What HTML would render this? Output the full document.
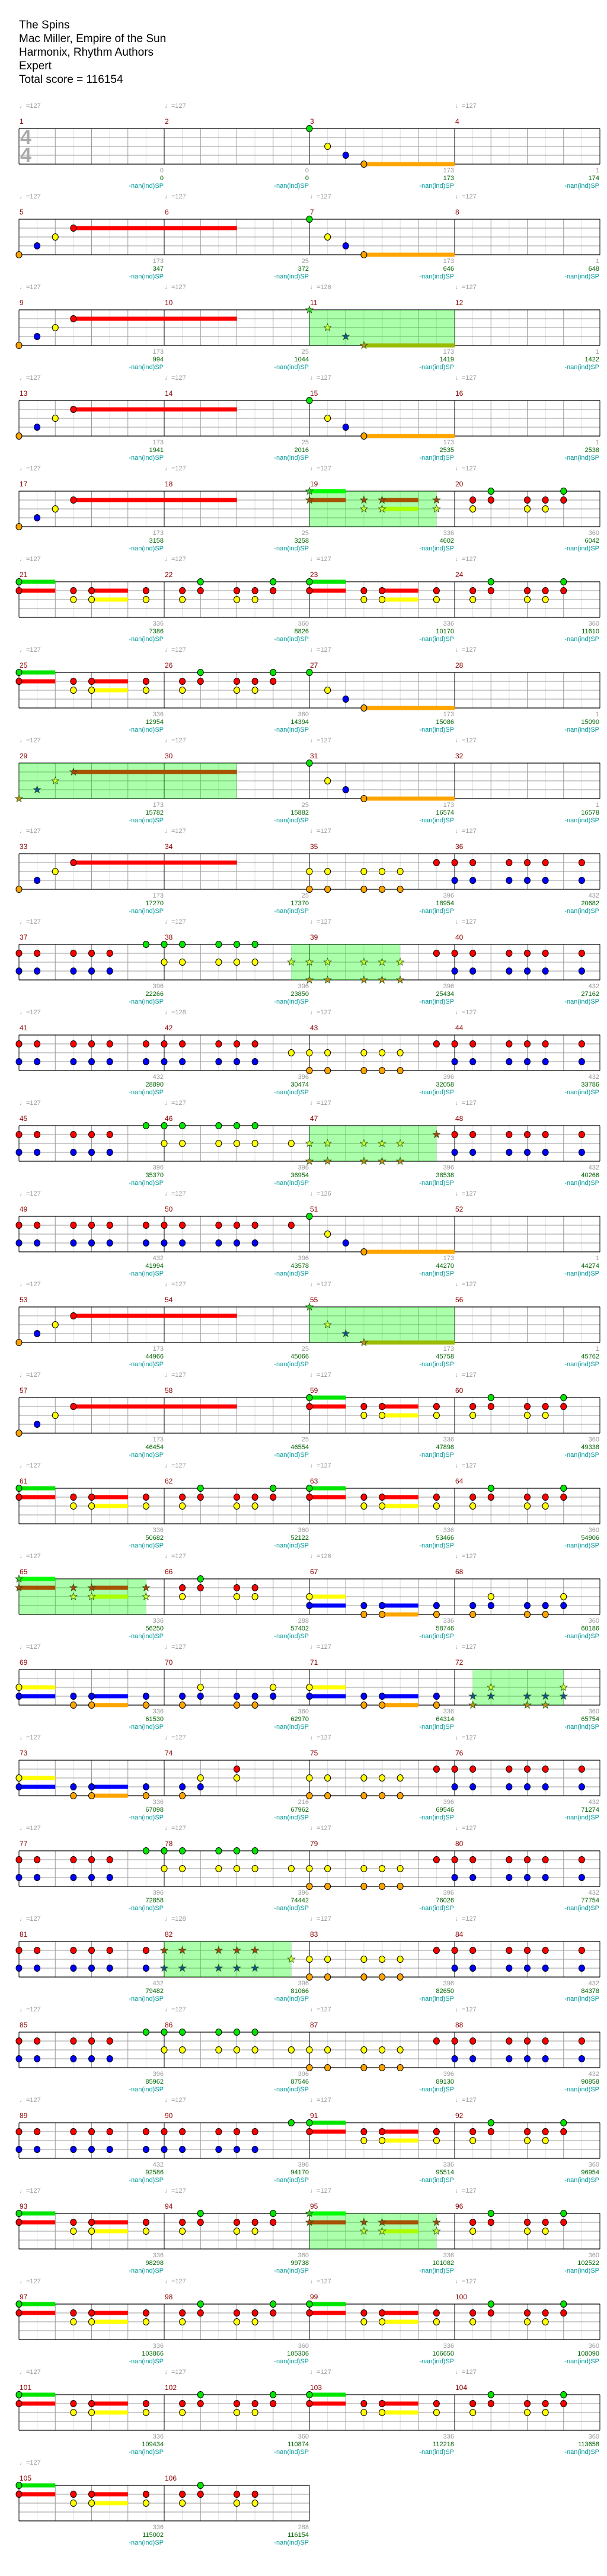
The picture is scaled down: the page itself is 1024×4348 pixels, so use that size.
<!DOCTYPE html>
<html><head><meta charset="utf-8">
<style>
html,body{margin:0;padding:0;background:#fff;}
body{width:1024px;height:4348px;position:relative;overflow:hidden;font-family:"Liberation Sans",sans-serif;}
#hd{position:absolute;left:32px;top:31px;font-size:19px;line-height:23px;color:#000;}
.r{position:absolute;left:32px;width:980px;height:0;}
.tp,.mn,.bt{position:absolute;left:0;display:flex;white-space:nowrap;}
.tp{top:-44px;font-size:11px;line-height:13px;color:#999;}
.mn{top:-18px;font-size:12px;line-height:13px;color:#8b0000;}
.bt{top:65px;font-size:11px;line-height:13px;color:#999;}
.tp span,.mn span{display:block;width:245px;padding-left:1px;box-sizing:border-box;}
.bt span{display:block;width:245px;text-align:right;padding-right:1px;box-sizing:border-box;}
.bt b{font-weight:normal;color:#006400;}
.bt i{font-style:normal;color:#009999;}
#ts{position:absolute;left:34px;top:217px;font-size:34px;line-height:30px;color:#aaa;font-weight:bold;}
svg{position:absolute;left:0;top:0;}
</style></head><body>
<svg id="s" width="1024" height="4348" xmlns="http://www.w3.org/2000/svg"></svg>
<div id="hd">The Spins<br>Mac Miller, Empire of the Sun<br>Harmonix, Rhythm Authors<br>Expert<br>Total score = 116154</div>
<div id="ts">4<br>4</div>

<div class=r style="top:217px"><div class=tp><span>♩=127</span><span>♩=127</span><span></span><span>♩=127</span></div><div class=mn><span>1</span><span>2</span><span>3</span><span>4</span></div><div class=bt><span>0<br><b>0</b><br><i>-nan(ind)SP</i></span><span>0<br><b>0</b><br><i>-nan(ind)SP</i></span><span>173<br><b>173</b><br><i>-nan(ind)SP</i></span><span>1<br><b>174</b><br><i>-nan(ind)SP</i></span></div></div>
<div class=r style="top:370px"><div class=tp><span>♩=127</span><span>♩=127</span><span>♩=127</span><span>♩=127</span></div><div class=mn><span>5</span><span>6</span><span>7</span><span>8</span></div><div class=bt><span>173<br><b>347</b><br><i>-nan(ind)SP</i></span><span>25<br><b>372</b><br><i>-nan(ind)SP</i></span><span>173<br><b>646</b><br><i>-nan(ind)SP</i></span><span>1<br><b>648</b><br><i>-nan(ind)SP</i></span></div></div>
<div class=r style="top:523px"><div class=tp><span>♩=127</span><span>♩=127</span><span>♩=126</span><span>♩=127</span></div><div class=mn><span>9</span><span>10</span><span>11</span><span>12</span></div><div class=bt><span>173<br><b>994</b><br><i>-nan(ind)SP</i></span><span>25<br><b>1044</b><br><i>-nan(ind)SP</i></span><span>173<br><b>1419</b><br><i>-nan(ind)SP</i></span><span>1<br><b>1422</b><br><i>-nan(ind)SP</i></span></div></div>
<div class=r style="top:676px"><div class=tp><span>♩=127</span><span>♩=127</span><span>♩=127</span><span>♩=127</span></div><div class=mn><span>13</span><span>14</span><span>15</span><span>16</span></div><div class=bt><span>173<br><b>1941</b><br><i>-nan(ind)SP</i></span><span>25<br><b>2016</b><br><i>-nan(ind)SP</i></span><span>173<br><b>2535</b><br><i>-nan(ind)SP</i></span><span>1<br><b>2538</b><br><i>-nan(ind)SP</i></span></div></div>
<div class=r style="top:829px"><div class=tp><span>♩=127</span><span>♩=127</span><span>♩=127</span><span>♩=127</span></div><div class=mn><span>17</span><span>18</span><span>19</span><span>20</span></div><div class=bt><span>173<br><b>3158</b><br><i>-nan(ind)SP</i></span><span>25<br><b>3258</b><br><i>-nan(ind)SP</i></span><span>336<br><b>4602</b><br><i>-nan(ind)SP</i></span><span>360<br><b>6042</b><br><i>-nan(ind)SP</i></span></div></div>
<div class=r style="top:982px"><div class=tp><span>♩=127</span><span>♩=127</span><span>♩=127</span><span>♩=127</span></div><div class=mn><span>21</span><span>22</span><span>23</span><span>24</span></div><div class=bt><span>336<br><b>7386</b><br><i>-nan(ind)SP</i></span><span>360<br><b>8826</b><br><i>-nan(ind)SP</i></span><span>336<br><b>10170</b><br><i>-nan(ind)SP</i></span><span>360<br><b>11610</b><br><i>-nan(ind)SP</i></span></div></div>
<div class=r style="top:1135px"><div class=tp><span>♩=127</span><span>♩=127</span><span>♩=127</span><span>♩=127</span></div><div class=mn><span>25</span><span>26</span><span>27</span><span>28</span></div><div class=bt><span>336<br><b>12954</b><br><i>-nan(ind)SP</i></span><span>360<br><b>14394</b><br><i>-nan(ind)SP</i></span><span>173<br><b>15086</b><br><i>-nan(ind)SP</i></span><span>1<br><b>15090</b><br><i>-nan(ind)SP</i></span></div></div>
<div class=r style="top:1288px"><div class=tp><span>♩=127</span><span>♩=127</span><span>♩=127</span><span>♩=127</span></div><div class=mn><span>29</span><span>30</span><span>31</span><span>32</span></div><div class=bt><span>173<br><b>15782</b><br><i>-nan(ind)SP</i></span><span>25<br><b>15882</b><br><i>-nan(ind)SP</i></span><span>173<br><b>16574</b><br><i>-nan(ind)SP</i></span><span>1<br><b>16578</b><br><i>-nan(ind)SP</i></span></div></div>
<div class=r style="top:1441px"><div class=tp><span>♩=127</span><span>♩=127</span><span>♩=127</span><span>♩=127</span></div><div class=mn><span>33</span><span>34</span><span>35</span><span>36</span></div><div class=bt><span>173<br><b>17270</b><br><i>-nan(ind)SP</i></span><span>25<br><b>17370</b><br><i>-nan(ind)SP</i></span><span>396<br><b>18954</b><br><i>-nan(ind)SP</i></span><span>432<br><b>20682</b><br><i>-nan(ind)SP</i></span></div></div>
<div class=r style="top:1594px"><div class=tp><span>♩=127</span><span>♩=127</span><span>♩=127</span><span>♩=127</span></div><div class=mn><span>37</span><span>38</span><span>39</span><span>40</span></div><div class=bt><span>396<br><b>22266</b><br><i>-nan(ind)SP</i></span><span>396<br><b>23850</b><br><i>-nan(ind)SP</i></span><span>396<br><b>25434</b><br><i>-nan(ind)SP</i></span><span>432<br><b>27162</b><br><i>-nan(ind)SP</i></span></div></div>
<div class=r style="top:1747px"><div class=tp><span>♩=127</span><span>♩=128</span><span>♩=127</span><span>♩=127</span></div><div class=mn><span>41</span><span>42</span><span>43</span><span>44</span></div><div class=bt><span>432<br><b>28890</b><br><i>-nan(ind)SP</i></span><span>396<br><b>30474</b><br><i>-nan(ind)SP</i></span><span>396<br><b>32058</b><br><i>-nan(ind)SP</i></span><span>432<br><b>33786</b><br><i>-nan(ind)SP</i></span></div></div>
<div class=r style="top:1900px"><div class=tp><span>♩=127</span><span>♩=127</span><span>♩=127</span><span>♩=127</span></div><div class=mn><span>45</span><span>46</span><span>47</span><span>48</span></div><div class=bt><span>396<br><b>35370</b><br><i>-nan(ind)SP</i></span><span>396<br><b>36954</b><br><i>-nan(ind)SP</i></span><span>396<br><b>38538</b><br><i>-nan(ind)SP</i></span><span>432<br><b>40266</b><br><i>-nan(ind)SP</i></span></div></div>
<div class=r style="top:2053px"><div class=tp><span>♩=127</span><span>♩=127</span><span>♩=126</span><span>♩=127</span></div><div class=mn><span>49</span><span>50</span><span>51</span><span>52</span></div><div class=bt><span>432<br><b>41994</b><br><i>-nan(ind)SP</i></span><span>396<br><b>43578</b><br><i>-nan(ind)SP</i></span><span>173<br><b>44270</b><br><i>-nan(ind)SP</i></span><span>1<br><b>44274</b><br><i>-nan(ind)SP</i></span></div></div>
<div class=r style="top:2206px"><div class=tp><span>♩=127</span><span>♩=127</span><span>♩=127</span><span>♩=127</span></div><div class=mn><span>53</span><span>54</span><span>55</span><span>56</span></div><div class=bt><span>173<br><b>44966</b><br><i>-nan(ind)SP</i></span><span>25<br><b>45066</b><br><i>-nan(ind)SP</i></span><span>173<br><b>45758</b><br><i>-nan(ind)SP</i></span><span>1<br><b>45762</b><br><i>-nan(ind)SP</i></span></div></div>
<div class=r style="top:2359px"><div class=tp><span>♩=127</span><span>♩=127</span><span>♩=127</span><span>♩=127</span></div><div class=mn><span>57</span><span>58</span><span>59</span><span>60</span></div><div class=bt><span>173<br><b>46454</b><br><i>-nan(ind)SP</i></span><span>25<br><b>46554</b><br><i>-nan(ind)SP</i></span><span>336<br><b>47898</b><br><i>-nan(ind)SP</i></span><span>360<br><b>49338</b><br><i>-nan(ind)SP</i></span></div></div>
<div class=r style="top:2512px"><div class=tp><span>♩=127</span><span>♩=127</span><span>♩=127</span><span>♩=127</span></div><div class=mn><span>61</span><span>62</span><span>63</span><span>64</span></div><div class=bt><span>336<br><b>50682</b><br><i>-nan(ind)SP</i></span><span>360<br><b>52122</b><br><i>-nan(ind)SP</i></span><span>336<br><b>53466</b><br><i>-nan(ind)SP</i></span><span>360<br><b>54906</b><br><i>-nan(ind)SP</i></span></div></div>
<div class=r style="top:2665px"><div class=tp><span>♩=127</span><span>♩=127</span><span>♩=126</span><span>♩=127</span></div><div class=mn><span>65</span><span>66</span><span>67</span><span>68</span></div><div class=bt><span>336<br><b>56250</b><br><i>-nan(ind)SP</i></span><span>288<br><b>57402</b><br><i>-nan(ind)SP</i></span><span>336<br><b>58746</b><br><i>-nan(ind)SP</i></span><span>360<br><b>60186</b><br><i>-nan(ind)SP</i></span></div></div>
<div class=r style="top:2818px"><div class=tp><span>♩=127</span><span>♩=127</span><span>♩=127</span><span>♩=127</span></div><div class=mn><span>69</span><span>70</span><span>71</span><span>72</span></div><div class=bt><span>336<br><b>61530</b><br><i>-nan(ind)SP</i></span><span>360<br><b>62970</b><br><i>-nan(ind)SP</i></span><span>336<br><b>64314</b><br><i>-nan(ind)SP</i></span><span>360<br><b>65754</b><br><i>-nan(ind)SP</i></span></div></div>
<div class=r style="top:2971px"><div class=tp><span>♩=127</span><span>♩=127</span><span>♩=127</span><span>♩=127</span></div><div class=mn><span>73</span><span>74</span><span>75</span><span>76</span></div><div class=bt><span>336<br><b>67098</b><br><i>-nan(ind)SP</i></span><span>216<br><b>67962</b><br><i>-nan(ind)SP</i></span><span>396<br><b>69546</b><br><i>-nan(ind)SP</i></span><span>432<br><b>71274</b><br><i>-nan(ind)SP</i></span></div></div>
<div class=r style="top:3124px"><div class=tp><span>♩=127</span><span>♩=127</span><span>♩=127</span><span>♩=127</span></div><div class=mn><span>77</span><span>78</span><span>79</span><span>80</span></div><div class=bt><span>396<br><b>72858</b><br><i>-nan(ind)SP</i></span><span>396<br><b>74442</b><br><i>-nan(ind)SP</i></span><span>396<br><b>76026</b><br><i>-nan(ind)SP</i></span><span>432<br><b>77754</b><br><i>-nan(ind)SP</i></span></div></div>
<div class=r style="top:3277px"><div class=tp><span>♩=127</span><span>♩=128</span><span>♩=127</span><span>♩=127</span></div><div class=mn><span>81</span><span>82</span><span>83</span><span>84</span></div><div class=bt><span>432<br><b>79482</b><br><i>-nan(ind)SP</i></span><span>396<br><b>81066</b><br><i>-nan(ind)SP</i></span><span>396<br><b>82650</b><br><i>-nan(ind)SP</i></span><span>432<br><b>84378</b><br><i>-nan(ind)SP</i></span></div></div>
<div class=r style="top:3430px"><div class=tp><span>♩=127</span><span>♩=127</span><span>♩=127</span><span>♩=127</span></div><div class=mn><span>85</span><span>86</span><span>87</span><span>88</span></div><div class=bt><span>396<br><b>85962</b><br><i>-nan(ind)SP</i></span><span>396<br><b>87546</b><br><i>-nan(ind)SP</i></span><span>396<br><b>89130</b><br><i>-nan(ind)SP</i></span><span>432<br><b>90858</b><br><i>-nan(ind)SP</i></span></div></div>
<div class=r style="top:3583px"><div class=tp><span>♩=127</span><span>♩=127</span><span>♩=127</span><span>♩=127</span></div><div class=mn><span>89</span><span>90</span><span>91</span><span>92</span></div><div class=bt><span>432<br><b>92586</b><br><i>-nan(ind)SP</i></span><span>396<br><b>94170</b><br><i>-nan(ind)SP</i></span><span>336<br><b>95514</b><br><i>-nan(ind)SP</i></span><span>360<br><b>96954</b><br><i>-nan(ind)SP</i></span></div></div>
<div class=r style="top:3736px"><div class=tp><span>♩=127</span><span>♩=127</span><span>♩=127</span><span>♩=127</span></div><div class=mn><span>93</span><span>94</span><span>95</span><span>96</span></div><div class=bt><span>336<br><b>98298</b><br><i>-nan(ind)SP</i></span><span>360<br><b>99738</b><br><i>-nan(ind)SP</i></span><span>336<br><b>101082</b><br><i>-nan(ind)SP</i></span><span>360<br><b>102522</b><br><i>-nan(ind)SP</i></span></div></div>
<div class=r style="top:3889px"><div class=tp><span>♩=127</span><span>♩=127</span><span>♩=127</span><span>♩=127</span></div><div class=mn><span>97</span><span>98</span><span>99</span><span>100</span></div><div class=bt><span>336<br><b>103866</b><br><i>-nan(ind)SP</i></span><span>360<br><b>105306</b><br><i>-nan(ind)SP</i></span><span>336<br><b>106650</b><br><i>-nan(ind)SP</i></span><span>360<br><b>108090</b><br><i>-nan(ind)SP</i></span></div></div>
<div class=r style="top:4042px"><div class=tp><span>♩=127</span><span>♩=127</span><span>♩=127</span><span>♩=127</span></div><div class=mn><span>101</span><span>102</span><span>103</span><span>104</span></div><div class=bt><span>336<br><b>109434</b><br><i>-nan(ind)SP</i></span><span>360<br><b>110874</b><br><i>-nan(ind)SP</i></span><span>336<br><b>112218</b><br><i>-nan(ind)SP</i></span><span>360<br><b>113658</b><br><i>-nan(ind)SP</i></span></div></div>
<div class=r style="top:4195px"><div class=tp><span>♩=127</span></div><div class=mn><span>105</span><span>106</span></div><div class=bt><span>336<br><b>115002</b><br><i>-nan(ind)SP</i></span><span>288<br><b>116154</b><br><i>-nan(ind)SP</i></span></div></div>

<script>
(function(){
var rows=[],cur;
var LN="GRYBO";
function row(k,nm){cur={k:k,nm:nm||4,notes:[],sp:[]};rows.push(cur);}
function n(p,l,s,st){cur.notes.push([p,l,s||0,st||0]);}
function sp(a,b){cur.sp.push([a,b]);}
function many(ps,l,st){ps.forEach(function(p){n(p,l,0,st);});}
function intro(st){n(0,'O',0,st);n(1,'B',0,st);n(2,'Y',0,st);n(3,'R',9,st);}
function outro(st){n(16,'G',0,st);n(17,'Y',0,st);n(18,'B',0,st);n(19,'O',5,st);}
function PA(o,star,shift,noEnd){shift=shift||0;
 function sh(l){return LN[LN.indexOf(l)+shift];}
 var s1=star==1?1:0,s2=star==2?1:0;
 n(o,sh('G'),2,s1);n(o,sh('R'),2,s1);n(o+3,sh('R'),0,s1);n(o+4,sh('R'),2,s1);n(o+7,sh('R'),0,s1);
 n(o+3,sh('Y'),0,s1);n(o+4,sh('Y'),2,s1);n(o+7,sh('Y'),0,s1);
 n(o+9,sh('R'),0,s2);n(o+10,sh('G'),0,s2);n(o+10,sh('R'),0,s2);n(o+12,sh('R'),0,s2);n(o+13,sh('R'),0,s2);
 if(!noEnd){n(o+14,sh('G'),0,s2);n(o+14,sh('R'),0,s2);}
 n(o+9,sh('Y'),0,s2);n(o+12,sh('Y'),0,s2);n(o+13,sh('Y'),0,s2);}
function YO(){many([16,17,19,20,21],'Y');many([16,17,19,20,21],'O');}
function RB4(){many([23,24,25,27,28,29,31],'R');many([24,25,27,28,29,31],'B');}
function G6(){many([7,8,9,11,12,13],'G');}
var F=[0,1,3,4,5],A=[0,1,3,4,5,7,8,9,11,12,13];
row(0);outro();
row(1);intro();outro();
row(2);intro();sp(16,24);outro(1);
row(3);intro();outro();
row(4);intro();sp(16,23);PA(16,1);
row(5);PA(0);PA(16);
row(6);PA(0);outro();
row(7);sp(0,12);intro(1);outro();
row(8);intro();YO();RB4();
row(9);many(F,'R');many(F,'B');G6();many([8,9,11,12,13],'Y');sp(15,21);many([15,16,17,19,20,21],'Y',1);many([16,17,19,20,21],'O',1);RB4();
row(10);many(A,'R');many(A,'B');YO();n(15,'Y');RB4();
row(11);many(F,'R');many(F,'B');G6();many([8,9,11,12,13,15],'Y');sp(16,23);many([16,17,19,20,21],'Y',1);many([16,17,19,20,21],'O',1);n(23,'R',0,1);many([24,25,27,28,29,31],'R');many([24,25,27,28,29,31],'B');
row(12);many(A.concat([15]),'R');many(A,'B');outro();
row(13);intro();sp(16,24);outro(1);
row(14);intro();PA(16);
row(15);PA(0);PA(16);
row(16);sp(0,7);PA(0,1,0,1);PA(16,0,2);
row(17);PA(0,0,2);sp(25,30);PA(16,2,2);
row(18);n(0,'Y',2);n(0,'B',2);n(3,'B');n(4,'B',2);n(7,'B');n(3,'O');n(4,'O',2);n(7,'O');n(9,'O');n(9,'B');n(10,'Y');n(10,'B');n(12,'R');n(12,'Y');YO();RB4();
row(19);many(F,'R');many(F,'B');G6();many([8,9,11,12,13,15],'Y');YO();RB4();
row(20);many([0,1,3,4,5,7],'R');many([0,1,3,4,5,7],'B');sp(8,15);many([8,9,11,12,13],'R',1);many([8,9,11,12,13],'B',1);n(15,'Y',0,1);YO();RB4();
row(21);many(F,'R');many(F,'B');G6();many([8,9,11,12,13,15],'Y');YO();RB4();
row(22);many(A,'R');many(A,'B');n(15,'G');PA(16);
row(23);PA(0);sp(16,23);PA(16,1);
row(24);PA(0);PA(16);
row(25);PA(0);PA(16);
row(26,2);PA(0,0,0,1);

var col={G:'#00e600',R:'#ff0000',Y:'#ffff00',B:'#0000ff',O:'#ffa500'};
var scol={G:'#00ff00',R:'#a65200',Y:'#aaff00',B:'#0000ff',O:'#99bb00'};
var stf={G:'#33cc33',R:'#b04010',Y:'#ccff33',B:'#1050a0',O:'#c09020'};
var out=[];
function X(p){return 32+p*30.625;}
rows.forEach(function(r){
 var T=217+153*r.k,W=r.nm*245,E=32+W;
 for(var p=0;p<=r.nm*8;p++){var x=X(p).toFixed(2);var c=p%8==0?'#000':(p%2==0?'#999':'#ddd');
  if(p%8!=0)out.push('<line x1="'+x+'" y1="'+T+'" x2="'+x+'" y2="'+(T+60)+'" stroke="'+c+'" stroke-width="1"/>');}
 for(var l=1;l<4;l++)out.push('<line x1="32" y1="'+(T+l*15)+'" x2="'+E+'" y2="'+(T+l*15)+'" stroke="#999" stroke-width="1"/>');
 for(var m=0;m<=r.nm;m++){var x=32+m*245;out.push('<line x1="'+x+'" y1="'+T+'" x2="'+x+'" y2="'+(T+60)+'" stroke="#000" stroke-width="1"/>');}
 out.push('<line x1="32" y1="'+T+'" x2="'+E+'" y2="'+T+'" stroke="#000" stroke-width="1.3"/>');
 out.push('<line x1="32" y1="'+(T+60)+'" x2="'+E+'" y2="'+(T+60)+'" stroke="#000" stroke-width="1.3"/>');
 r.sp.forEach(function(s){out.push('<rect x="'+X(s[0])+'" y="'+T+'" width="'+(X(s[1])-X(s[0]))+'" height="60" fill="rgba(0,255,0,0.33)"/>');});
 r.notes.forEach(function(nt){if(nt[2]>0){var l=LN.indexOf(nt[1]);var y=T+l*15;
  out.push('<rect x="'+X(nt[0])+'" y="'+(y-3.5)+'" width="'+(nt[2]*30.625)+'" height="7" fill="'+(nt[3]?scol[nt[1]]:col[nt[1]])+'"/>');}});
 r.notes.forEach(function(nt){var l=LN.indexOf(nt[1]);var y=T+l*15,x=X(nt[0]);
  if(nt[3]){var pts=[];for(var i=0;i<10;i++){var a=-Math.PI/2+i*Math.PI/5,rr=i%2?2.6:6.5;pts.push((x+rr*Math.cos(a)).toFixed(1)+','+(y+rr*Math.sin(a)).toFixed(1));}
   out.push('<polygon points="'+pts.join(' ')+'" fill="'+stf[nt[1]]+'" stroke="#225500" stroke-width="0.8"/>');}
  else out.push('<ellipse cx="'+x+'" cy="'+y+'" rx="5" ry="5.5" fill="'+col[nt[1]]+'" stroke="#000" stroke-width="1"/>');});
});
document.getElementById('s').innerHTML=out.join('');
})();
</script>
</body></html>
